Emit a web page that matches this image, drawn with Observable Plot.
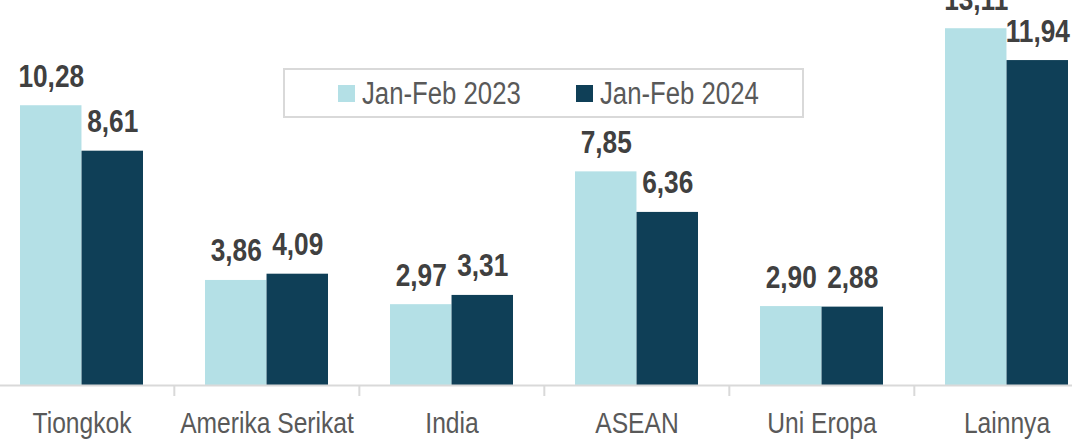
<!DOCTYPE html>
<html>
<head>
<meta charset="utf-8">
<script src="https://cdn.jsdelivr.net/npm/d3@7"></script>
<script src="https://cdn.jsdelivr.net/npm/@observablehq/plot@0.6"></script>
<style>
  html, body { margin: 0; padding: 0; background: #fff; overflow: hidden; }
  #wrap { position: relative; width: 1072px; height: 441px; }
  #legend {
    position: absolute; left: 283px; top: 68px; width: 517px; height: 46px;
    border: 2px solid #d9d9d9; box-sizing: content-box;
    font-family: "Liberation Sans", Arial, sans-serif;
    font-size: 31px; color: #595959;
  }
  .sw { position: absolute; width: 17px; height: 17px; top: 15px; }
  .lt { position: absolute; top: 6px; line-height: 36px; white-space: nowrap; transform: scaleX(0.83); transform-origin: left center; }
</style>
</head>
<body>
<div id="wrap">
  <div id="chart"></div>
  <div id="legend"></div>
</div>
<script>
const categories = ["Tiongkok", "Amerika Serikat", "India", "ASEAN", "Uni Eropa", "Lainnya"];
const seriesNames = ["Jan-Feb 2023", "Jan-Feb 2024"];
const values2023 = [10.28, 3.86, 2.97, 7.85, 2.90, 13.11];
const values2024 = [8.61, 4.09, 3.31, 6.36, 2.88, 11.94];
const colors = ["#b4e0e6", "#0f3f57"];

const fmt = v => v.toFixed(2).replace(".", ",");
const d23 = categories.map((c, i) => ({cat: c, value: values2023[i]}));
const d24 = categories.map((c, i) => ({cat: c, value: values2024[i]}));

const W = 1072, H = 441;
const mLeft = -12, mRight = -28;
const padIn = 0.336, padOut = 0.168;
const step = (W - mRight - mLeft) / categories.length;
const bw = step * (1 - padIn);
const half = bw / 2;
const font = '"Liberation Sans", Arial, sans-serif';

const chart = Plot.plot({
  width: W,
  height: H,
  marginLeft: mLeft,
  marginRight: mRight,
  marginTop: 4,
  marginBottom: 56,
  style: {fontFamily: font, background: "transparent", overflow: "visible"},
  x: {domain: categories, paddingInner: padIn, paddingOuter: padOut, axis: null},
  y: {domain: [0, 14], axis: null},
  marks: [
    Plot.barY(d23, {x: "cat", y: "value", fill: colors[0], insetRight: half}),
    Plot.barY(d24, {x: "cat", y: "value", fill: colors[1], insetLeft: half}),
    Plot.ruleY([0], {stroke: "#d9d9d9", strokeWidth: 2}),
    Plot.ruleX(categories.slice(1), {x: d => d, y1: 0, y2: 0, insetBottom: -11, dx: -step / 2, stroke: "#d9d9d9", strokeWidth: 2}),
    Plot.text(d23, {x: "cat", y: "value", text: d => fmt(d.value), dx: -half / 2, dy: -19, lineAnchor: "bottom", fontSize: 32, fontWeight: "bold", fill: "#404040"}),
    Plot.text(d24, {x: "cat", y: "value", text: d => fmt(d.value), dx: half / 2, dy: -19, lineAnchor: "bottom", fontSize: 32, fontWeight: "bold", fill: "#404040"}),
    Plot.text(categories, {x: d => d, y: 0, text: d => d, dy: 38, lineAnchor: "middle", fontSize: 30, fill: "#595959"})
  ]
});
document.getElementById("chart").appendChild(chart);

// narrow the glyphs (Arial Narrow look)
chart.querySelectorAll("text").forEach(t => {
  const len = t.getComputedTextLength();
  if (len > 0) {
    t.setAttribute("textLength", (len * 0.82).toFixed(1));
    t.setAttribute("lengthAdjust", "spacingAndGlyphs");
  }
});

const legend = document.getElementById("legend");
const swX = [53, 291], txX = [77, 315];
seriesNames.forEach((s, i) => {
  const sw = document.createElement("div");
  sw.className = "sw";
  sw.style.left = swX[i] + "px";
  sw.style.background = colors[i];
  const t = document.createElement("span");
  t.className = "lt";
  t.style.left = txX[i] + "px";
  t.textContent = s;
  legend.appendChild(sw);
  legend.appendChild(t);
});
</script>
</body>
</html>
